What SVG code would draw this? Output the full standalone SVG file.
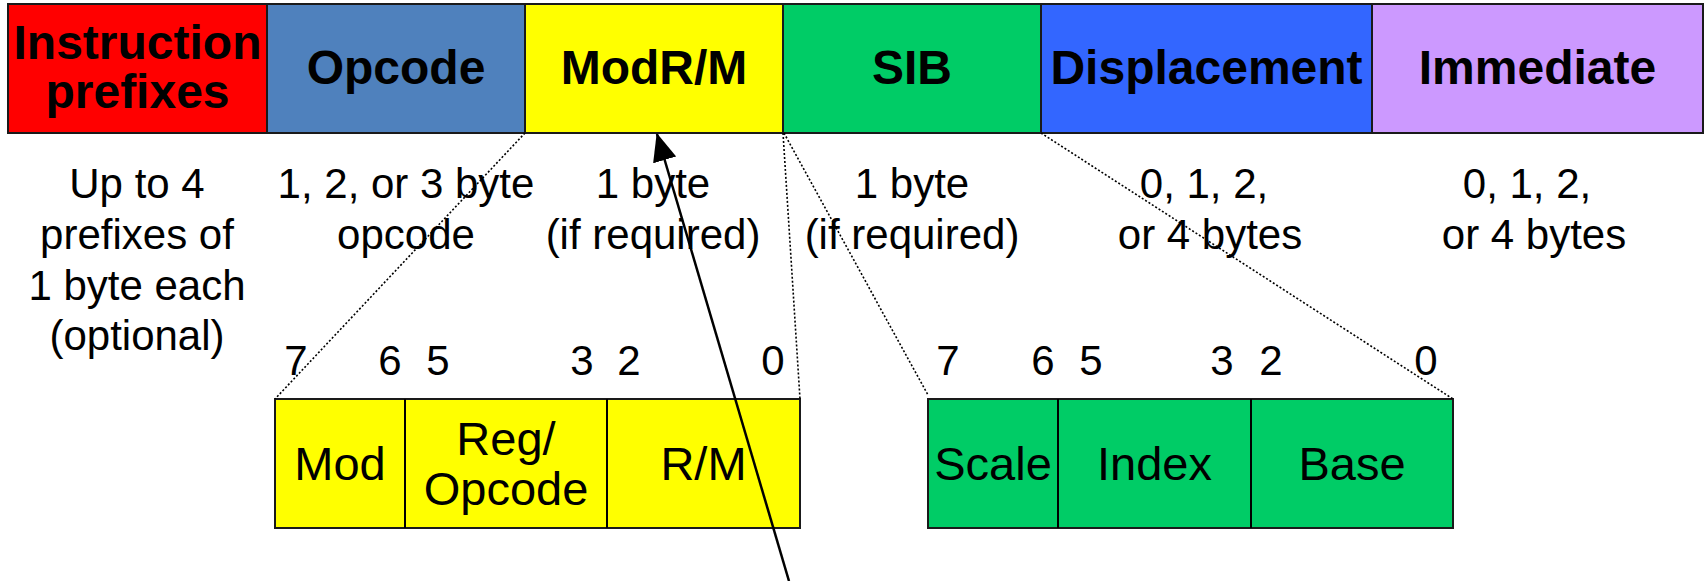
<svg xmlns="http://www.w3.org/2000/svg" width="1707" height="581" viewBox="0 0 1707 581">
<style>
  .box { stroke: #1a1a1a; stroke-width: 2; }
  .div { stroke: #000; stroke-width: 2; }
  .hdr { font-family: "Liberation Sans", Arial, sans-serif; font-weight: bold; font-size: 48px; text-anchor: middle; fill: #000; }
  .desc { font-family: "Liberation Sans", Arial, sans-serif; font-size: 42px; text-anchor: middle; fill: #000; }
  .sub { font-family: "Liberation Sans", Arial, sans-serif; font-size: 47px; text-anchor: middle; fill: #000; }
  .dot { stroke: #000; stroke-width: 1.6; stroke-dasharray: 2 2; fill: none; }
  .arrow { stroke: #000; stroke-width: 2.5; fill: none; }
</style>
<defs>
  <marker id="ah" markerUnits="userSpaceOnUse" markerWidth="30" markerHeight="26" refX="27" refY="12" orient="auto">
    <path d="M0,0 L28,12 L0,24 Z" fill="#000"/>
  </marker>
</defs>
<rect width="1707" height="581" fill="#fff"/>

<g id="prefixes">
  <rect class="box" x="8" y="4" width="259" height="129" fill="#FF0000"/>
  <text class="hdr" x="137.5" y="59">Instruction</text>
  <text class="hdr" x="137.5" y="108">prefixes</text>
</g>
<g id="opcode">
  <rect class="box" x="267" y="4" width="258" height="129" fill="#4F81BD"/>
  <text class="hdr" x="396" y="84">Opcode</text>
</g>
<g id="modrm">
  <rect class="box" x="525" y="4" width="258" height="129" fill="#FFFF00"/>
  <text class="hdr" x="654" y="84">ModR/M</text>
</g>
<g id="sib">
  <rect class="box" x="783" y="4" width="258" height="129" fill="#00CC66"/>
  <text class="hdr" x="912" y="84">SIB</text>
</g>
<g id="displacement">
  <rect class="box" x="1041" y="4" width="331" height="129" fill="#3366FF"/>
  <text class="hdr" x="1206.5" y="84">Displacement</text>
</g>
<g id="immediate">
  <rect class="box" x="1372" y="4" width="331" height="129" fill="#CC99FF"/>
  <text class="hdr" x="1537.5" y="84">Immediate</text>
</g>

<g id="descriptions">
  <text class="desc" x="137" y="198">Up to 4</text>
  <text class="desc" x="137" y="249">prefixes of</text>
  <text class="desc" x="137" y="300">1 byte each</text>
  <text class="desc" x="137" y="350">(optional)</text>
  <text class="desc" x="406" y="198">1, 2, or 3 byte</text>
  <text class="desc" x="406" y="249">opcode</text>
  <text class="desc" x="653" y="198">1 byte</text>
  <text class="desc" x="653" y="249">(if required)</text>
  <text class="desc" x="912" y="198">1 byte</text>
  <text class="desc" x="912" y="249">(if required)</text>
  <text class="desc" x="1204" y="198">0, 1, 2,</text>
  <text class="desc" x="1210" y="249">or 4 bytes</text>
  <text class="desc" x="1527" y="198">0, 1, 2,</text>
  <text class="desc" x="1534" y="249">or 4 bytes</text>
</g>

<g id="modrm-bits">
  <text class="desc" x="296" y="375">7</text>
  <text class="desc" x="390" y="375">6</text>
  <text class="desc" x="438" y="375">5</text>
  <text class="desc" x="582" y="375">3</text>
  <text class="desc" x="629" y="375">2</text>
  <text class="desc" x="773" y="375">0</text>
</g>
<g id="sib-bits">
  <text class="desc" x="948" y="375">7</text>
  <text class="desc" x="1043" y="375">6</text>
  <text class="desc" x="1091" y="375">5</text>
  <text class="desc" x="1222" y="375">3</text>
  <text class="desc" x="1271" y="375">2</text>
  <text class="desc" x="1426" y="375">0</text>
</g>

<g id="modrm-detail">
  <rect class="box" x="275" y="399" width="525" height="129" fill="#FFFF00"/>
  <line class="div" x1="405" y1="399" x2="405" y2="528"/>
  <line class="div" x1="607" y1="399" x2="607" y2="528"/>
  <text class="sub" x="340" y="480">Mod</text>
  <text class="sub" x="506" y="455">Reg/</text>
  <text class="sub" x="506" y="505">Opcode</text>
  <text class="sub" x="703.5" y="480">R/M</text>
</g>
<g id="sib-detail">
  <rect class="box" x="928" y="399" width="525" height="129" fill="#00CC66"/>
  <line class="div" x1="1058" y1="399" x2="1058" y2="528"/>
  <line class="div" x1="1251" y1="399" x2="1251" y2="528"/>
  <text class="sub" x="993" y="480">Scale</text>
  <text class="sub" x="1154.5" y="480">Index</text>
  <text class="sub" x="1352" y="480">Base</text>
</g>

<g id="connectors">
  <line class="dot" x1="525" y1="133" x2="275" y2="399"/>
  <line class="dot" x1="783" y1="133" x2="800" y2="399"/>
  <line class="dot" x1="784" y1="133" x2="928" y2="395"/>
  <line class="dot" x1="1041" y1="133" x2="1453" y2="399"/>
  <line class="arrow" x1="789" y1="581" x2="657" y2="134" marker-end="url(#ah)"/>
</g>
</svg>
